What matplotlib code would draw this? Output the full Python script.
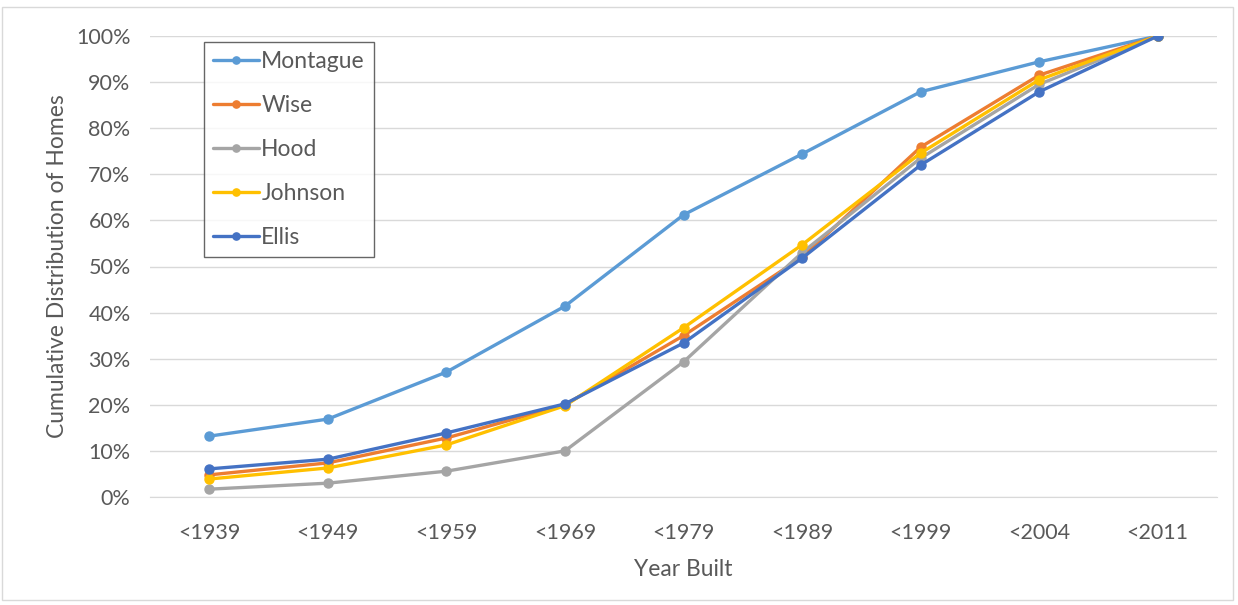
import matplotlib.pyplot as plt
from matplotlib.ticker import PercentFormatter
from matplotlib.patches import Rectangle

plt.rcParams['font.family'] = ['Lato', 'DejaVu Sans']

years = ['<1939', '<1949', '<1959', '<1969', '<1979', '<1989', '<1999', '<2004', '<2011']

montague = [13.2, 16.9, 27.1, 41.4, 61.2, 74.4, 87.9, 94.4, 100]
wise = [4.8, 7.4, 12.8, 20.0, 35.0, 52.0, 75.9, 91.5, 100]
hood = [1.7, 3.0, 5.6, 10.0, 29.3, 53.0, 73.5, 89.5, 100]
johnson = [3.9, 6.3, 11.3, 19.8, 36.7, 54.7, 74.6, 90.5, 100]
ellis = [6.1, 8.2, 13.9, 20.2, 33.4, 51.8, 72.0, 87.9, 100]

series = [
    ('Montague', montague, '#5B9BD5'),
    ('Wise', wise, '#ED7D31'),
    ('Hood', hood, '#A5A5A5'),
    ('Johnson', johnson, '#FFC000'),
    ('Ellis', ellis, '#4472C4'),
]

txt = '#595959'

fig = plt.figure(figsize=(12.38, 6.05), dpi=100)
ax = fig.add_axes([150 / 1238, 1 - 497 / 605, 1067 / 1238, 461 / 605])

# light border around the whole chart area
fig.patches.append(Rectangle((0.002, 0.008), 0.994, 0.98, transform=fig.transFigure,
                             fill=False, edgecolor='#D9D9D9', linewidth=1))

x = range(len(years))
for name, vals, col in series:
    ax.plot(x, [v / 100 for v in vals], color=col, lw=2.4, marker='o', ms=6.5,
            label=name, solid_capstyle='round')

ax.set_xlim(-0.5, len(years) - 0.5)
ax.set_ylim(0, 1.0)
ax.set_yticks([i / 10 for i in range(11)])
ax.yaxis.set_major_formatter(PercentFormatter(1.0, decimals=0))
ax.set_xticks(list(x))
ax.set_xticklabels(years)
ax.grid(axis='y', color='#D9D9D9', lw=1)
ax.set_axisbelow(True)
for s in ax.spines.values():
    s.set_visible(False)
ax.spines['bottom'].set_visible(True)
ax.spines['bottom'].set_color('#D9D9D9')
ax.tick_params(length=0, labelsize=15.5, colors=txt)
ax.tick_params(axis='y', pad=14)
ax.tick_params(axis='x', pad=19)

ax.set_xlabel('Year Built', fontsize=16.5, color=txt, labelpad=11)
ax.set_ylabel('Cumulative Distribution of Homes', fontsize=16.5, color=txt, labelpad=6)

leg = ax.legend(loc='upper left', bbox_to_anchor=(0.0506, 0.987), fontsize=16.5,
                labelcolor=txt, frameon=True, fancybox=False, labelspacing=1.0,
                handlelength=2.0, handletextpad=0.1, borderpad=0.4, borderaxespad=0,
                markerscale=0.8)
leg.get_frame().set_edgecolor('#404040')
leg.get_frame().set_linewidth(1)

fig.savefig('out.png', dpi=100)
